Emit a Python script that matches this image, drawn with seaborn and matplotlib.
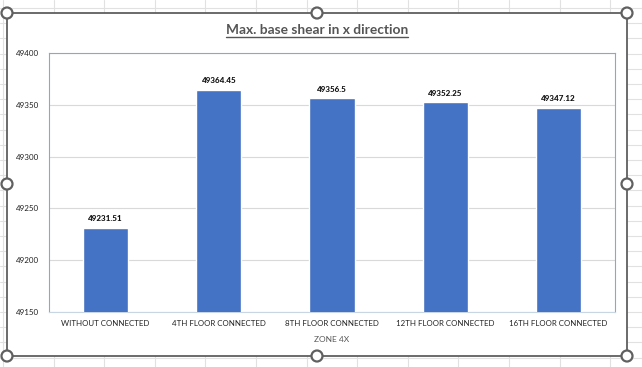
import matplotlib
matplotlib.use("Agg")
import matplotlib.pyplot as plt
import matplotlib.patches as mpatches
import matplotlib.lines as mlines
import numpy as np
import pandas as pd
import seaborn as sns

# Chart data
categories = ["WITHOUT CONNECTED", "4TH FLOOR CONNECTED", "8TH FLOOR CONNECTED",
              "12TH FLOOR CONNECTED", "16TH FLOOR CONNECTED"]
base_shear = [49231.51, 49364.45, 49356.5, 49352.25, 49347.12]
value_labels = ["49231.51", "49364.45", "49356.5", "49352.25", "49347.12"]
y_ticks = [49150, 49200, 49250, 49300, 49350, 49400]

df = pd.DataFrame({"zone": categories, "shear": base_shear})

sns.set_style("white")
plt.rcParams["font.family"] = ["Lato", "DejaVu Sans"]

W, H = 642, 367
fig = plt.figure(figsize=(W / 100, H / 100), dpi=100)
fig.patch.set_facecolor("white")


def fx(px):
    return px / W


def fy(py):
    return 1 - py / H


# Excel sheet cell lines behind the chart
for x in np.arange(3, W, 50.6):
    fig.add_artist(mlines.Line2D([fx(x), fx(x)], [0, 1], color="#e1e1e1", lw=0.8, zorder=0))
for y in np.arange(8, H, 15.2):
    fig.add_artist(mlines.Line2D([0, 1], [fy(y), fy(y)], color="#e1e1e1", lw=0.8, zorder=0))

# chart area (selected, with dark border)
frame = mpatches.Rectangle((fx(7), fy(356)), fx(627) - fx(7), fy(13) - fy(356),
                           transform=fig.transFigure, facecolor="white",
                           edgecolor="#5f5f5f", lw=1.3, zorder=1)
fig.add_artist(frame)

ax = fig.add_axes([fx(49), fy(312), fx(615) - fx(49), fy(53) - fy(312)])
ax.set_zorder(2)
sns.barplot(data=df, x="zone", y="shear", color="#4472C4", width=0.4,
            saturation=1, ax=ax, zorder=3)

ax.set_ylim(49150, 49400)
ax.set_yticks(y_ticks)
ax.set_yticklabels([str(t) for t in y_ticks], fontsize=5.8, color="#222222")
ax.tick_params(axis="y", length=0, pad=7)
ax.tick_params(axis="x", length=0, pad=6, labelsize=5.7, labelcolor="#222222")
ax.yaxis.grid(True, color="#d9d9d9", lw=0.8)
ax.set_axisbelow(True)
for side in ["left", "top", "right"]:
    ax.spines[side].set_color("#86aacb")
    ax.spines[side].set_linewidth(0.8)
ax.spines["bottom"].set_color("#c8d6e4")
ax.spines["bottom"].set_linewidth(0.8)

for i, (v, lab) in enumerate(zip(base_shear, value_labels)):
    ax.annotate(lab, (i, v), xytext=(0, 4), textcoords="offset points",
                ha="center", va="bottom", fontsize=5.8, fontweight="black",
                color="#111111")

ax.set_xlabel("ZONE 4X", fontsize=6, color="#595959", labelpad=6)
ax.set_ylabel("")

# underlined title
title = fig.text(fx(317), fy(30), "Max. base shear in x direction", ha="center",
                 va="center", fontsize=9.9, fontweight="bold", color="#555555",
                 zorder=5)
fig.canvas.draw()
bb = title.get_window_extent().transformed(fig.transFigure.inverted())
fig.add_artist(mlines.Line2D([bb.x0, bb.x1], [bb.y0 - 0.004, bb.y0 - 0.004],
                             color="#555555", lw=1.0, zorder=5))

# selection handles
for hx, hy in [(7, 13), (317, 13), (627, 13), (7, 184), (627, 184),
               (7, 356), (317, 356), (627, 356)]:
    fig.add_artist(mpatches.Ellipse((fx(hx), fy(hy)), 11 / W, 11 / H,
                                    transform=fig.transFigure, facecolor="white",
                                    edgecolor="#606060", lw=1.6, zorder=6))

fig.savefig("out.png", dpi=100)
